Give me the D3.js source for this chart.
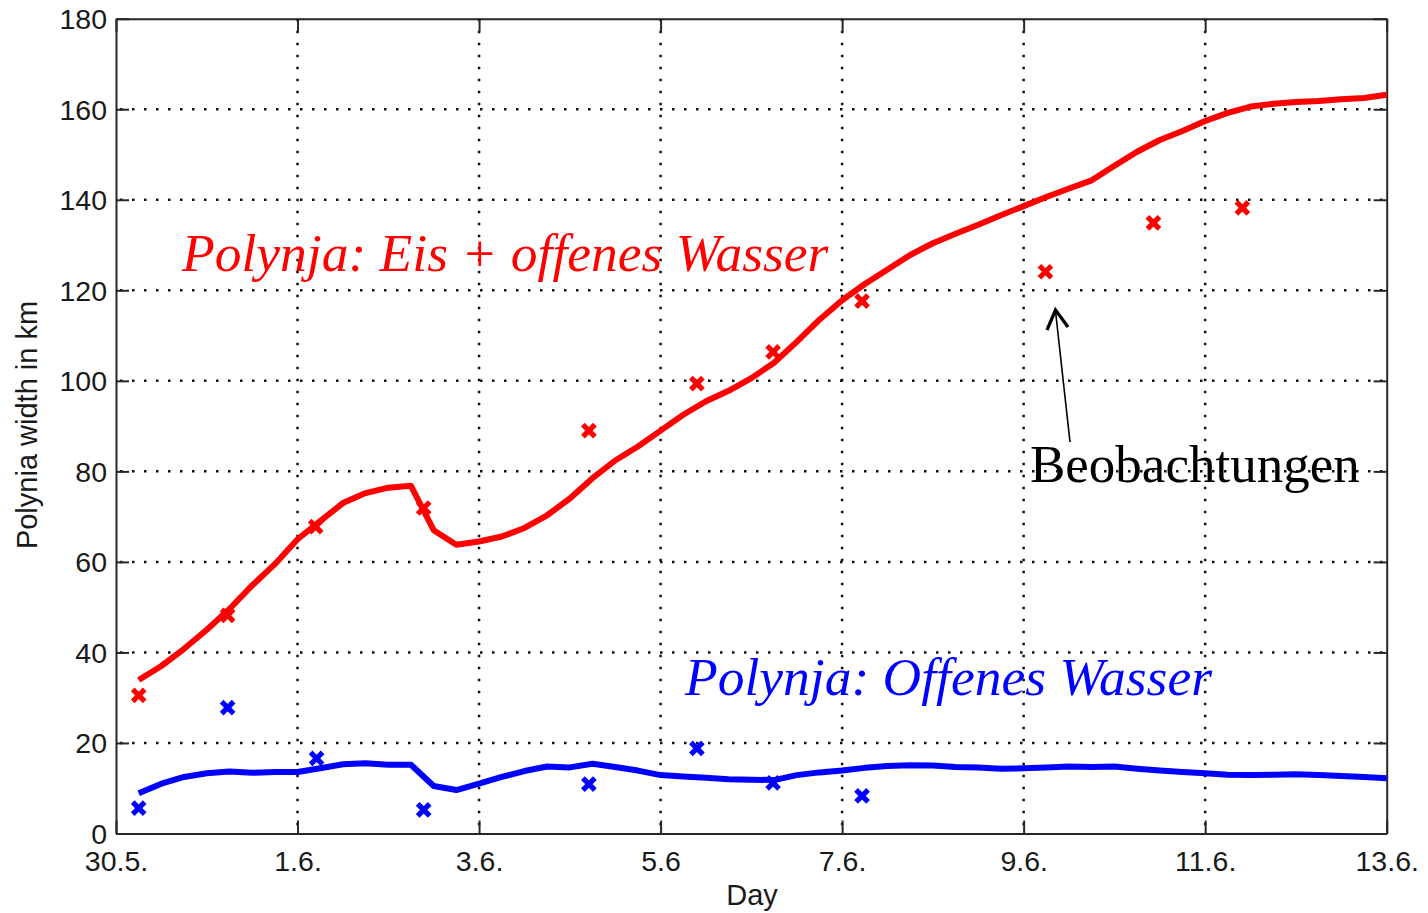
<!DOCTYPE html>
<html><head><meta charset="utf-8">
<script src="https://cdn.jsdelivr.net/npm/d3@7"></script>
<style>
html,body{margin:0;padding:0;background:#fff;}
svg{display:block;}
</style></head>
<body>
<svg id="chart" width="1428" height="913"></svg>
<script>
// ---- data ----
const dayTicks = [0, 2, 4, 6, 8, 10, 12, 14];
const dayTickLabels = ["30.5.", "1.6.", "3.6.", "5.6", "7.6.", "9.6.", "11.6.", "13.6."];
const widthTicks = [0, 20, 40, 60, 80, 100, 120, 140, 160, 180];

const modelDays = [0.25,0.5,0.75,1.0,1.25,1.5,1.75,2.0,2.25,2.5,2.75,3.0,3.25,3.5,3.75,4.0,4.25,4.5,4.75,5.0,5.25,5.5,5.75,6.0,6.25,6.5,6.75,7.0,7.25,7.5,7.75,8.0,8.25,8.5,8.75,9.0,9.25,9.5,9.75,10.0,10.25,10.5,10.75,11.0,11.25,11.5,11.75,12.0,12.25,12.5,12.75,13.0,13.25,13.5,13.75,14.0];
const modelTotal = [33.9,37.0,40.8,45.0,49.6,54.8,59.5,65.0,69.0,73.0,75.2,76.4,76.8,67.0,63.8,64.5,65.6,67.5,70.3,74.0,78.5,82.4,85.5,89.0,92.5,95.5,97.8,100.6,104.0,108.6,113.5,117.8,121.4,124.6,127.8,130.4,132.5,134.5,136.6,138.6,140.6,142.5,144.3,147.5,150.6,153.2,155.2,157.4,159.2,160.6,161.2,161.6,161.8,162.2,162.5,163.2];
const modelOpen = [8.9,11.0,12.5,13.3,13.7,13.4,13.6,13.6,14.4,15.3,15.5,15.2,15.2,10.5,9.6,11.0,12.5,13.8,14.8,14.6,15.4,14.7,13.9,12.9,12.6,12.3,12.0,11.9,11.8,12.9,13.5,13.9,14.5,14.9,15.1,15.0,14.7,14.6,14.3,14.4,14.6,14.8,14.7,14.8,14.3,13.9,13.6,13.3,13.0,12.9,13.0,13.1,12.9,12.7,12.5,12.2];

const obsDaysTotal = [0.25, 1.23, 2.2, 3.39, 5.21, 6.4, 7.24, 8.22, 10.24, 11.43, 12.41];
const obsTotal = [30.5, 48.2, 67.8, 71.9, 89.0, 99.4, 106.4, 117.6, 124.1, 134.9, 138.2];
const obsDaysOpen = [0.25, 1.23, 2.21, 3.39, 5.21, 6.4, 7.24, 8.22];
const obsOpen = [5.6, 27.8, 16.6, 5.2, 10.9, 18.8, 11.2, 8.3];

// ---- layout ----
const svg = d3.select("#chart");
const L = 116, R = 1386.7, T = 18.7, B = 833.5;
const x = d3.scaleLinear().domain([0, 14]).range([L, R]);
const y = d3.scaleLinear().domain([0, 180]).range([B, T]);
const axisColor = "#262626";
const tickLen = 13;
const sansFont = "'Liberation Sans', Arial, Helvetica, sans-serif";
const serifFont = "'Liberation Serif', 'Times New Roman', serif";

svg.append("rect").attr("width", 1428).attr("height", 913).attr("fill", "#fff");

// grid
const grid = svg.append("g");
grid.selectAll("line.vg").data(dayTicks.filter(d => d > 0 && d < 14)).join("line")
  .attr("x1", d => x(d)).attr("x2", d => x(d)).attr("y1", T).attr("y2", B)
  .attr("stroke", "#111").attr("stroke-width", 2.5).attr("stroke-dasharray", "2.5 9.5");
grid.selectAll("line.hg").data(widthTicks.filter(d => d > 0 && d < 180)).join("line")
  .attr("x1", L).attr("x2", R).attr("y1", d => y(d)).attr("y2", d => y(d))
  .attr("stroke", "#111").attr("stroke-width", 2.5).attr("stroke-dasharray", "2.5 9.5").attr("stroke-dashoffset", -4);

// axes with inward ticks on all sides
const axB = d3.axisBottom(x).tickValues(dayTicks).tickSizeInner(-tickLen).tickSizeOuter(0).tickPadding(0).tickFormat((d, i) => dayTickLabels[i]);
const axT = d3.axisTop(x).tickValues(dayTicks).tickSizeInner(-tickLen).tickSizeOuter(0).tickFormat("");
const axLft = d3.axisLeft(y).tickValues(widthTicks).tickSizeInner(-tickLen).tickSizeOuter(0).tickPadding(0).tickFormat(d3.format("d"));
const axRgt = d3.axisRight(y).tickValues(widthTicks).tickSizeInner(-tickLen).tickSizeOuter(0).tickFormat("");

function styleAxis(g) {
  g.select(".domain").attr("stroke", axisColor).attr("stroke-width", 2);
  g.selectAll(".tick line").attr("stroke", axisColor).attr("stroke-width", 2);
  g.selectAll("text").attr("fill", "#1a1a1a").style("font-family", sansFont).style("font-size", "28.5px");
}
const gB = svg.append("g").attr("transform", `translate(0,${B})`).call(axB).call(styleAxis);
gB.selectAll(".tick text").attr("y", 37).attr("dy", 0);
const gT = svg.append("g").attr("transform", `translate(0,${T})`).call(axT).call(styleAxis);
const gL = svg.append("g").attr("transform", `translate(${L},0)`).call(axLft).call(styleAxis);
gL.selectAll(".tick text").attr("x", -9).attr("dy", "0.35em");
const gR = svg.append("g").attr("transform", `translate(${R},0)`).call(axRgt).call(styleAxis);

// axis titles
svg.append("text").attr("x", 752).attr("y", 905).attr("text-anchor", "middle")
  .style("font-family", sansFont).style("font-size", "29px").attr("fill", "#1a1a1a").text("Day");
svg.append("text").attr("transform", "translate(37,425) rotate(-90)").attr("text-anchor", "middle")
  .style("font-family", sansFont).style("font-size", "29px").attr("fill", "#1a1a1a").text("Polynia width in km");

// model lines
const line = d3.line().x(d => x(d[0])).y(d => y(d[1]));
svg.append("path").datum(modelDays.map((d, i) => [d, modelOpen[i]]))
  .attr("d", line).attr("fill", "none").attr("stroke", "#0000ff").attr("stroke-width", 6).attr("stroke-linejoin", "round");
svg.append("path").datum(modelDays.map((d, i) => [d, modelTotal[i]]))
  .attr("d", line).attr("fill", "none").attr("stroke", "#ff0000").attr("stroke-width", 6).attr("stroke-linejoin", "round");

// observation markers
const xs = 6;
function markers(days, vals, color) {
  svg.append("g").selectAll("path").data(days.map((d, i) => [d, vals[i]])).join("path")
    .attr("d", d => {
      const cx = x(d[0]), cy = y(d[1]);
      return `M${cx - xs},${cy - xs}L${cx + xs},${cy + xs}M${cx - xs},${cy + xs}L${cx + xs},${cy - xs}`;
    })
    .attr("stroke", color).attr("stroke-width", 5.2).attr("fill", "none");
}
markers(obsDaysTotal, obsTotal, "#ff0000");
markers(obsDaysOpen, obsOpen, "#0000ff");

// annotations
svg.append("text").attr("x", 182).attr("y", 271)
  .style("font-family", serifFont).style("font-style", "italic").style("font-size", "53.5px")
  .attr("fill", "#ff0000").text("Polynja: Eis + offenes Wasser");
svg.append("text").attr("x", 685).attr("y", 695)
  .style("font-family", serifFont).style("font-style", "italic").style("font-size", "53.5px")
  .attr("fill", "#0000ff").text("Polynja: Offenes Wasser");
svg.append("text").attr("x", 1030).attr("y", 482)
  .style("font-family", serifFont).style("font-size", "53px")
  .attr("fill", "#000").text("Beobachtungen");

// arrow
svg.append("line").attr("x1", 1070).attr("y1", 442).attr("x2", 1055.5).attr("y2", 311)
  .attr("stroke", "#000").attr("stroke-width", 1.6);
svg.append("path").attr("d", "M1047,330L1055.5,310L1068,327")
  .attr("fill", "none").attr("stroke", "#000").attr("stroke-width", 3.2).attr("stroke-linejoin", "miter");
</script>
</body></html>
